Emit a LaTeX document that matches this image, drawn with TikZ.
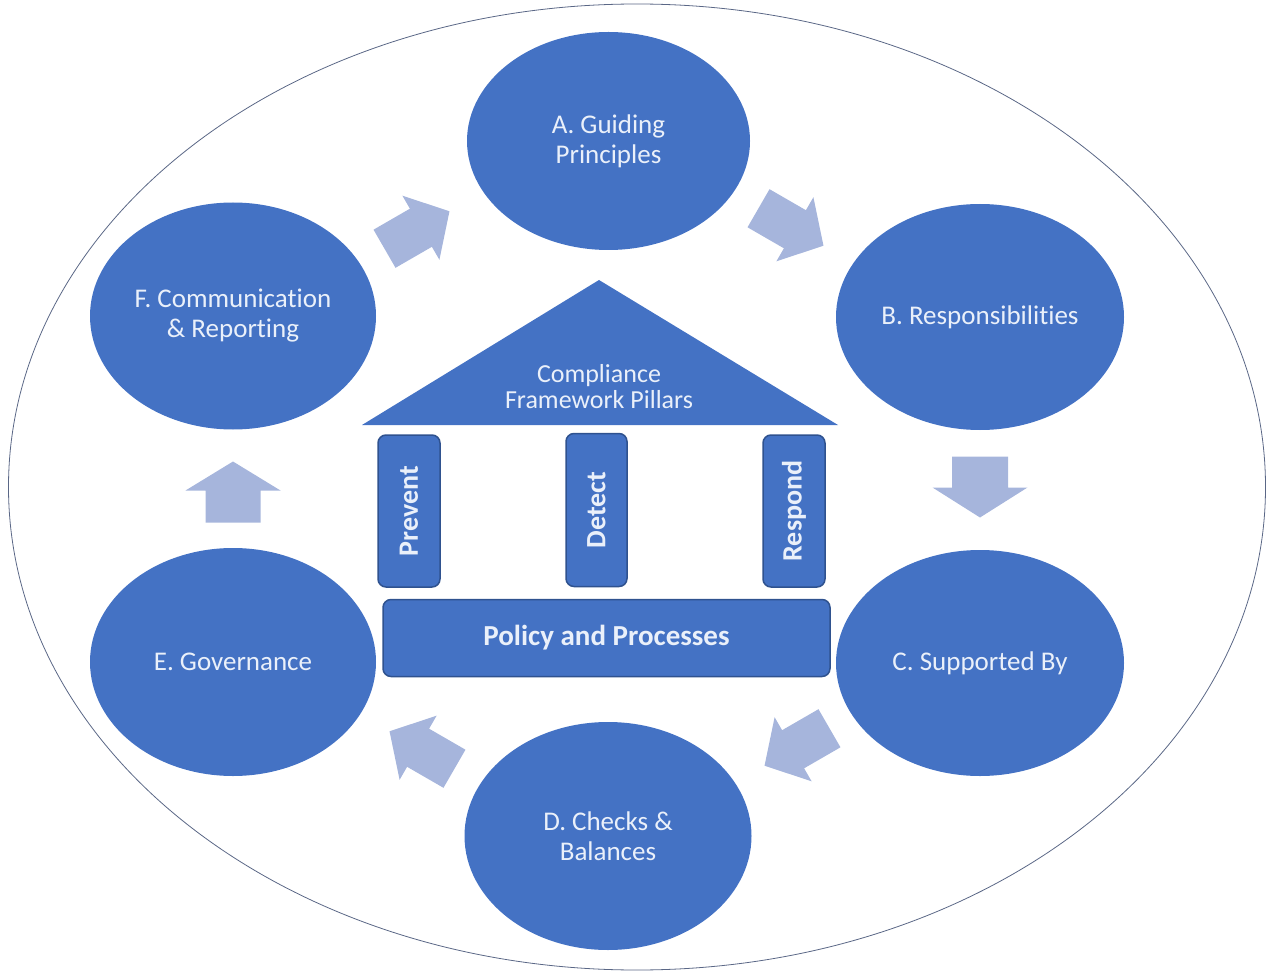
\documentclass[tikz,border=0pt]{standalone}
\usepackage{fontspec}
\usepackage{graphicx}
\setmainfont{Carlito}[Ligatures=NoCommon]
\usetikzlibrary{shapes.geometric}
\definecolor{fillblue}{HTML}{4472C4}
\definecolor{arrowblue}{HTML}{A6B5DC}
\definecolor{txtcol}{HTML}{EAF0FA}
\definecolor{edgeblue}{HTML}{2F528F}
\definecolor{outercol}{HTML}{5A6786}
\newcommand{\blkarrow}[7]{%
  \fill[arrowblue, shift={#2}, rotate=#3]
    (-#4/2,-#6/2) -- ({#4/2-#7},-#6/2) -- ({#4/2-#7},-#5/2) -- (#4/2,0)
    -- ({#4/2-#7},#5/2) -- ({#4/2-#7},#6/2) -- (-#4/2,#6/2) -- cycle;
  \coordinate[shift={#2}] (#1) at (0,0);}
\begin{document}
\begin{tikzpicture}[x=1pt,y=-1pt,
  stage/.style={ellipse, fill=fillblue, inner sep=0pt, text=txtcol,
    align=center, font=\fontsize{27}{30}\selectfont},
  pillar/.style={draw=edgeblue, line width=1.5pt, fill=fillblue, rounded corners=8pt,
    inner sep=0pt, text=txtcol, font=\bfseries\fontsize{28}{30}\selectfont},
  outerring/.style={ellipse, draw=outercol, line width=0.8pt, inner sep=0pt}]
\useasboundingbox (0,0) rectangle (1266,973);

\node[outerring, minimum width=1257, minimum height=966] (ring) at (637,487) {};

\node[stage, minimum width=283, minimum height=218] (A) at (608.5,141) {A. Guiding\\Principles};
\node[stage, minimum width=288, minimum height=226] (B) at (980,317) {B. Responsibilities};
\node[stage, minimum width=288, minimum height=226] (C) at (980,663) {C. Supported By};
\node[stage, minimum width=287, minimum height=228] (D) at (608,836) {D. Checks \&\\Balances};
\node[stage, minimum width=286, minimum height=228] (E) at (233,662) {E. Governance};
\node[stage, minimum width=286, minimum height=227] (F) at (233,316) {F. Communication\\\& Reporting};

\blkarrow{fa}{(417,230)}{30}{75}{74}{44}{33}
\blkarrow{ab}{(791,227)}{-30}{75}{74}{44}{33}
\blkarrow{bc}{(980,487)}{-90}{61}{95}{56}{30}
\blkarrow{cd}{(797,747)}{210}{75}{74}{44}{33}
\blkarrow{de}{(422,750)}{150}{75}{74}{44}{33}
\blkarrow{ef}{(233,492)}{90}{61}{95}{55}{29}

\coordinate (apex) at (599,280);
\coordinate (roofL) at (362,425);
\coordinate (roofR) at (838,425);
\fill[fillblue] (roofL) -- (apex) -- (roofR) -- cycle;
\node[text=txtcol, align=center, font=\fontsize{26}{26}\selectfont] (roof) at (599,387)
  {Compliance\\Framework Pillars};

\node[pillar, minimum width=62, minimum height=152] (prevent) at (409,511) {\rotatebox{90}{Prevent}};
\node[pillar, minimum width=61, minimum height=153] (detect) at (596.5,510) {\rotatebox{90}{Detect}};
\node[pillar, minimum width=62, minimum height=152] (respond) at (794,511) {\rotatebox{90}{Respond}};
\node[pillar, minimum width=447, minimum height=77, font=\bfseries\fontsize{29}{30}\selectfont] (policy) at (606.5,638) {Policy and Processes};
\end{tikzpicture}
\end{document}
